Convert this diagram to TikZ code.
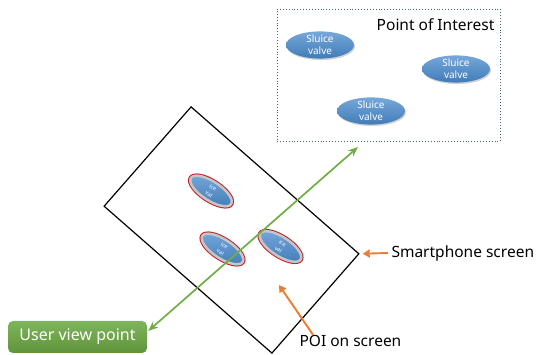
\documentclass[tikz,border=0pt]{standalone}
\usepackage{fontspec}
\setmainfont{Noto Sans}
\usetikzlibrary{arrows.meta,positioning,shapes.geometric,shadows}
\definecolor{viewgreen}{RGB}{112,173,71}
\definecolor{markorange}{RGB}{237,125,49}
\definecolor{valveblue}{RGB}{72,138,205}
\definecolor{ringred}{RGB}{190,30,40}
\definecolor{poiframe}{RGB}{70,100,130}

\begin{document}
\begin{tikzpicture}[x=1pt, y=1pt, font=\fontsize{15.5}{18}\selectfont]
      \tikzstyle{valve}=[ellipse,inner sep=0pt,minimum width=68pt,minimum height=27pt,align=center,text=white,font=\fontsize{10}{11.5}\selectfont,top color=valveblue!75!white,bottom color=valveblue!90!black,drop shadow={opacity=0.35,shadow xshift=1pt,shadow yshift=-1.5pt}]
      \tikzstyle{onscreen}=[ellipse,rotate=-33,inner sep=0pt,minimum width=48pt,minimum height=19pt,align=center,text=white,font=\fontsize{5.5}{7.5}\selectfont,top color=valveblue!75!white,bottom color=valveblue!90!black,draw=gray!45,line width=2.5pt,preaction={draw=ringred,line width=4.5pt}]
      \tikzstyle{pointer}=[markorange,line width=1.9pt,-{Triangle[length=7pt,width=8pt]}]
      \useasboundingbox (0,0) rectangle (542,355);

      % point of interest area
      \node[draw=poiframe,dotted,line width=0.9pt,minimum width=223pt,minimum height=132pt,inner sep=0pt] (poi) at (388.5,280) {};
      \node[anchor=east] (poititle) at (498,330) {Point of Interest};
      \node[valve] (v1) at (320,310) {Sluice\\valve};
      \node[valve] (v2) at (456,286) {Sluice\\valve};
      \node[valve] (v3) at (371,244) {Sluice\\valve};

      % smartphone screen
      \node[draw,line width=1.2pt,minimum width=223pt,minimum height=132pt,inner sep=0pt,rotate=-41.2] (phone) at (231.5,125) {};
      \node[onscreen] (s1) at (211,164) {ice\\val};
      \node[onscreen] (s2) at (222.5,106) {ice\\val};
      \node[onscreen] (s3) at (280.5,108.5) {ice\\val};

      % user view point
      \node[rounded corners=5pt,minimum width=139pt,minimum height=32pt,text=white,top color=viewgreen!90!white,bottom color=viewgreen!85!black,font=\fontsize{16}{18}\selectfont] (uvp) at (77.5,18) {User view point};
      \coordinate (eye) at ([xshift=1pt,yshift=6pt]uvp.east);
      \coordinate (target) at (358,208);
      \draw[viewgreen,line width=1.7pt,{Stealth[length=10pt,width=8pt]}-{Stealth[length=10pt,width=8pt]}] (eye) -- (target);

      % labels
      \node[anchor=west] (phonelbl) at (388,102) {Smartphone screen};
      \node[anchor=west] (poilbl) at (296,14) {POI on screen};
      \coordinate (poionscreen) at (279,70);
      \draw[pointer] (phonelbl.west) -- ([xshift=3pt]phone.north east);
      \draw[pointer] ([xshift=17pt,yshift=-3pt]poilbl.north west) -- (poionscreen);
    \end{tikzpicture}
\end{document}
